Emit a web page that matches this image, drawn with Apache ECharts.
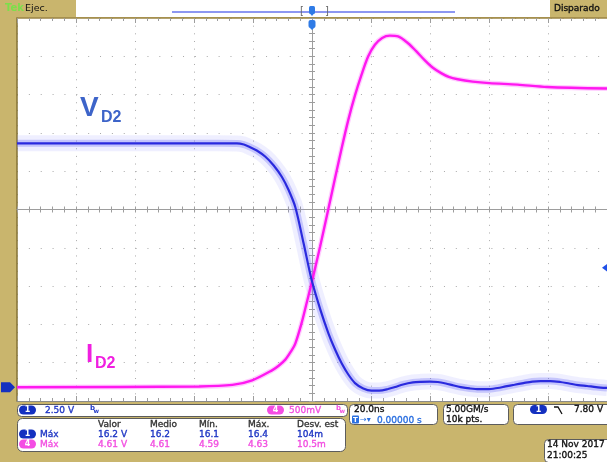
<!DOCTYPE html>
<html>
<head>
<meta charset="utf-8">
<script src="https://cdn.jsdelivr.net/npm/echarts@6/dist/echarts.min.js"></script>
<style>
  html, body { margin: 0; padding: 0; background: #c9b56d; }
  #scope { width: 607px; height: 462px; }
</style>
</head>
<body>
<div id="scope"></div>
<script>
// ---- Acquisition: 20 ns/div, 10 divisions, trigger at t = 0 ----
const timeRangeNs = [-100, 100];

// Channel 1: V_D2 (volts, 2.50 V/div)
const vd2Time = [-100, -38.3, -25.46, -23.10, -21.42, -18.72, -15.78, -12.98, -10.19, -7.93, -5.67,
  -2.87, -0.07, 2.77, 5.56, 7.82, 10.05, 12.31, 14.57, 17.37, 20.17, 22.77, 25.80, 28.16, 30.86,
  34.23, 36.93, 39.97, 42.66, 45.36, 48.06, 50.42, 53.46, 56.49, 59.53, 62.90, 65.60, 68.63,
  71.67, 74.70, 77.40, 80.78, 84.15, 87.18, 90.22, 93.25, 96.29, 100];
const vd2Volts = [15.92, 15.92, 15.91, 15.84, 15.71, 15.45, 15.04, 14.47, 13.72, 12.87, 11.76,
  9.41, 6.96, 5.10, 3.52, 2.46, 1.56, 0.83, 0.27, -0.08, -0.22, -0.22, -0.12, 0.01, 0.18,
  0.31, 0.35, 0.37, 0.34, 0.24, 0.11, 0.01, -0.08, -0.13, -0.13, -0.05, 0.05, 0.16,
  0.27, 0.37, 0.40, 0.40, 0.34, 0.24, 0.14, 0.08, 0.01, -0.05];

// Channel 4: I_D2 probe output (volts, 500 mV/div)
const id2Time = [-100, -38.3, -26.98, -20.30, -13.56, -11.30, -9.04, -7.25, -5.67, -3.44, -1.75,
  -0.07, 2.77, 5.56, 7.82, 10.05, 12.31, 14.57, 16.80, 19.06, 21.32, 23.78, 26.39, 29.17, 32.55,
  35.24, 38.18, 40.98, 43.78, 46.37, 49.41, 54.47, 60.10, 69.65, 79.76, 100];
const id2Volts = [0, 0.01, 0.03, 0.09, 0.22, 0.28, 0.36, 0.46, 0.57, 0.85, 1.11,
  1.37, 1.84, 2.33, 2.73, 3.12, 3.49, 3.81, 4.08, 4.32, 4.47, 4.56, 4.59, 4.58, 4.49,
  4.39, 4.27, 4.17, 4.10, 4.05, 4.02, 3.99, 3.97, 3.95, 3.92, 3.90];

// Vertical ranges: 10 divisions each, ground reference near the bottom
const ch1Range = [-0.9, 24.1];
const ch4Range = [-0.18, 4.82];
const triggerLevel = 7.80;

// Readout texts
const measureHeaders = ['Valor', 'Medio', 'Mín.', 'Máx.', 'Desv. est'];
const ch1Measures = ['16.2 V', '16.2', '16.1', '16.4', '104m'];
const ch4Measures = ['4.61 V', '4.61', '4.59', '4.63', '10.5m'];
const ch1ScaleText = '2.50 V';
const ch4ScaleText = '500mV';
const timebaseText = '20.0ns';
const delayText = '0.00000 s';
const sampleText = ['5.00GM/s', '10k pts.'];
const trigText = '7.80 V';
const dateText = ['14 Nov 2017', '21:00:25'];

const FONT = '"DejaVu Sans", Verdana, sans-serif';
const LABEL_FONT = '"Liberation Sans", Arial, sans-serif';
const KHAKI = '#c9b56d';
const BLUE_TXT = '#1f36c4';
const PINK_TXT = '#f24ee0';
const BADGE_BLUE = '#1430c0';
const BADGE_PINK = '#f44de3';
const GRID_DOT = '#a9a9a9';
const GRID_LINE = '#9d9d9d';

const pairs = (ts, vs) => ts.map((t, i) => [t, vs[i]]);

const chart = echarts.init(document.getElementById('scope'), null, { renderer: 'canvas' });

const hiddenLabel = { show: false };
const tickStyle = { color: GRID_LINE, width: 1 };
const SMOOTH = 0.3;

function trace(name, yIdx, data, z, lineStyle, silent) {
  return { name: name, type: 'line', xAxisIndex: 0, yAxisIndex: yIdx, data: data,
    smooth: SMOOTH, symbol: 'none', silent: !!silent, z: z, lineStyle: lineStyle };
}
const vd2Data = pairs(vd2Time, vd2Volts);
const id2Data = pairs(id2Time, id2Volts);

const option = {
  backgroundColor: KHAKI,
  animation: false,
  grid: { left: 17, top: 18, width: 593, height: 383, show: true, backgroundColor: '#ffffff', borderWidth: 0 },
  xAxis: [
    { // bottom edge + vertical dotted graticule
      type: 'value', min: timeRangeNs[0], max: timeRangeNs[1], interval: 20, position: 'bottom',
      axisLine: { onZero: false, lineStyle: { color: '#8a8a8a' } },
      axisTick: { inside: true, length: 5, lineStyle: tickStyle },
      minorTick: { show: true, splitNumber: 5, length: 3, lineStyle: tickStyle },
      axisLabel: hiddenLabel,
      splitLine: { show: true, lineStyle: { color: GRID_DOT, width: 1, type: [1, 6.66] } }
    },
    { // top edge
      type: 'value', min: timeRangeNs[0], max: timeRangeNs[1], interval: 20, position: 'top',
      axisLine: { onZero: false, lineStyle: { color: '#9a8443', width: 1.5 } },
      axisTick: { inside: true, length: 5, lineStyle: tickStyle },
      minorTick: { show: true, splitNumber: 5, length: 3, lineStyle: tickStyle },
      axisLabel: hiddenLabel, splitLine: { show: false }
    },
    { // centre horizontal line, ticks below
      type: 'value', min: timeRangeNs[0], max: timeRangeNs[1], interval: 4, position: 'bottom',
      axisLine: { onZero: true, onZeroAxisIndex: 2, lineStyle: { color: GRID_LINE } },
      axisTick: { inside: false, length: 3, lineStyle: tickStyle },
      axisLabel: hiddenLabel, splitLine: { show: false }
    },
    { // centre horizontal line, ticks above
      type: 'value', min: timeRangeNs[0], max: timeRangeNs[1], interval: 4, position: 'bottom',
      axisLine: { onZero: true, onZeroAxisIndex: 2, lineStyle: { color: GRID_LINE } },
      axisTick: { inside: true, length: 3, lineStyle: tickStyle },
      axisLabel: hiddenLabel, splitLine: { show: false }
    }
  ],
  yAxis: [
    { type: 'value', min: ch1Range[0], max: ch1Range[1], show: false, axisLine: { onZero: false } },
    { type: 'value', min: ch4Range[0], max: ch4Range[1], show: false, axisLine: { onZero: false } },
    { // divisions: left edge + horizontal dotted graticule
      type: 'value', min: -5, max: 5, interval: 1, position: 'left',
      axisLine: { onZero: false, lineStyle: { color: '#857336', width: 1.5 } },
      axisTick: { show: false },
      axisLabel: hiddenLabel,
      splitLine: { show: true, lineStyle: { color: GRID_DOT, width: 1, type: [1, 10.86] } }
    },
    { // centre vertical line, ticks left
      type: 'value', min: -5, max: 5, interval: 0.2, position: 'left',
      axisLine: { onZero: true, onZeroAxisIndex: 0, lineStyle: { color: GRID_LINE } },
      axisTick: { inside: false, length: 3, lineStyle: tickStyle },
      axisLabel: hiddenLabel, splitLine: { show: false }
    },
    { // centre vertical line, ticks right
      type: 'value', min: -5, max: 5, interval: 0.2, position: 'left',
      axisLine: { onZero: true, onZeroAxisIndex: 0, lineStyle: { color: GRID_LINE } },
      axisTick: { inside: true, length: 3, lineStyle: tickStyle },
      axisLabel: hiddenLabel, splitLine: { show: false }
    }
  ],
  series: [
    trace('V_D2 haze', 0, vd2Data, 2, { width: 16, color: 'rgba(150,150,255,0.15)' }, true),
    trace('V_D2 band', 0, vd2Data, 3, { width: 7, color: 'rgba(100,100,245,0.30)' }, true),
    trace('I_D2 band', 1, id2Data, 4, { width: 5, color: 'rgba(255,90,255,0.30)' }, true),
    trace('I_D2', 1, id2Data, 5, { width: 2.4, color: '#ff18f0' }),
    trace('V_D2', 0, vd2Data, 6, { width: 2.2, color: '#2a2ade' })
  ]
};
chart.setOption(option);

// ---- Decorations: status bar, readouts, markers ----
function txt(x, y, s, color, size, opt) {
  opt = opt || {};
  const style = { text: s, fill: color,
    font: (opt.weight || 'normal') + ' ' + size + 'px ' + (opt.family || FONT),
    align: opt.align || 'left', verticalAlign: 'middle' };
  if (opt.heavy) { style.stroke = color; style.lineWidth = 0.35; }
  return { type: 'text', x: x, y: y, z: 60, silent: true, style: style };
}
function box(x, y, w, h, r) {
  return { type: 'rect', z: 50, silent: true, shape: { x: x + 0.5, y: y + 0.5, width: w, height: h, r: r },
    style: { fill: '#ffffff', stroke: '#5c5c5c', lineWidth: 1 } };
}
function badge(x, y, label, color) {
  return [
    { type: 'rect', z: 55, silent: true, shape: { x: x, y: y, width: 17, height: 9, r: 4.5 }, style: { fill: color } },
    txt(x + 8.5, y + 4.8, label, '#ffffff', 8, { weight: 'bold', align: 'center' })
  ];
}
function bwIcon(x, y, color) {
  return [txt(x, y - 1.5, 'b', color, 7, { weight: 'bold' }), txt(x + 3.5, y + 1.5, 'w', color, 6, { weight: 'bold' })];
}

const els = [];
// status bar
els.push({ type: 'rect', z: 40, silent: true, shape: { x: 76, y: 0, width: 474, height: 17 }, style: { fill: '#ffffff' } });
els.push(txt(5, 8.5, 'Tek', '#7be04a', 10, { weight: 'bold' }));
els.push(txt(25, 8.5, 'Ejec.', '#111111', 9.5));
els.push(txt(554, 8.5, 'Disparado', '#111111', 9, { heavy: true }));
els.push({ type: 'line', z: 45, silent: true, shape: { x1: 172, y1: 12, x2: 455, y2: 12 }, style: { stroke: '#8d97f2', lineWidth: 2 } });
els.push(txt(300, 11, '[', '#6a6a6a', 10));
els.push(txt(325, 11, ']', '#6a6a6a', 10));

// on-screen labels
els.push(txt(80, 108, 'V', '#3d64c9', 28, { weight: 'bold', family: LABEL_FONT }));
els.push(txt(101, 117.5, 'D2', '#3d64c9', 16, { weight: 'bold', family: LABEL_FONT }));
els.push(txt(86, 354.5, 'I', '#f01fe0', 26, { weight: 'bold', family: LABEL_FONT }));
els.push(txt(95, 364, 'D2', '#f01fe0', 16, { weight: 'bold', family: LABEL_FONT }));

// channel scale row
els.push(box(17, 404, 330, 12, 4));
els.push(...badge(19, 405.5, '1', BADGE_BLUE));
els.push(txt(45, 410.5, ch1ScaleText, BLUE_TXT, 9, { heavy: true }));
els.push(...bwIcon(90, 410, BLUE_TXT));
els.push(...badge(267, 405.5, '4', BADGE_PINK));
els.push(txt(289, 410.5, ch4ScaleText, PINK_TXT, 9, { heavy: true }));
els.push(...bwIcon(336, 410, PINK_TXT));

// measurement table
const colX = [98, 150, 199, 248, 297];
els.push(box(17, 418, 328, 33, 5));
measureHeaders.forEach((h, i) => els.push(txt(colX[i], 424.5, h, '#333333', 9, { heavy: true })));
els.push(...badge(19, 429.5, '1', BADGE_BLUE));
els.push(txt(40, 434.5, 'Máx', BLUE_TXT, 9, { heavy: true }));
ch1Measures.forEach((v, i) => els.push(txt(colX[i], 434.5, v, BLUE_TXT, 9, { heavy: true })));
els.push(...badge(19, 439.5, '4', BADGE_PINK));
els.push(txt(40, 444.5, 'Máx', PINK_TXT, 9, { heavy: true }));
ch4Measures.forEach((v, i) => els.push(txt(colX[i], 444.5, v, PINK_TXT, 9, { heavy: true })));

// timebase
els.push(box(349, 404, 88, 20, 4));
els.push(txt(354, 409.5, timebaseText, '#111111', 9, { heavy: true }));
els.push({ type: 'rect', z: 55, silent: true, shape: { x: 352, y: 415.5, width: 7, height: 8, r: 1 }, style: { fill: '#2a6fe0' } });
els.push(txt(355.5, 419.8, 'T', '#ffffff', 7, { weight: 'bold', align: 'center' }));
els.push(txt(360, 419.5, '→▾', '#2a6fe0', 8));
els.push(txt(377, 420.5, delayText, '#2a6fe0', 9, { heavy: true }));

// sample rate
els.push(box(443, 404, 65, 20, 4));
els.push(txt(446, 409.5, sampleText[0], '#111111', 9, { heavy: true }));
els.push(txt(446, 420, sampleText[1], '#111111', 9, { heavy: true }));

// trigger
els.push(box(513, 404, 104, 20, 4));
els.push(...badge(530, 405, '1', BADGE_BLUE));
els.push({ type: 'polyline', z: 55, silent: true, shape: { points: [[554, 407], [558, 407], [562, 414]] }, style: { stroke: '#111111', lineWidth: 1.3, fill: null } });
els.push(txt(574, 410, trigText, '#111111', 9, { heavy: true }));

// date
els.push(box(544, 439, 72, 23, 4));
els.push(txt(547, 444.5, dateText[0], '#111111', 9, { heavy: true }));
els.push(txt(547, 456, dateText[1], '#111111', 9, { heavy: true }));

// markers placed from the axes
const gndY = chart.convertToPixel({ yAxisIndex: 0 }, 0);
const trigY = chart.convertToPixel({ yAxisIndex: 0 }, triggerLevel);
const trigX = chart.convertToPixel({ xAxisIndex: 0 }, 0);

els.push({ type: 'polygon', z: 70, silent: true,
  shape: { points: [[1, gndY - 5], [10, gndY - 5], [15, gndY], [10, gndY + 5], [1, gndY + 5]] },
  style: { fill: BADGE_BLUE } });
els.push(txt(7, gndY + 0.5, '1', '#ffffff', 8, { weight: 'bold', align: 'center' }));

els.push({ type: 'polygon', z: 70, silent: true,
  shape: { points: [[602, trigY], [608, trigY - 4.5], [608, trigY + 4.5]] }, style: { fill: '#2050e8' } });

// trigger-position markers
els.push({ type: 'rect', z: 70, silent: true, shape: { x: trigX - 3.5, y: 20, width: 7, height: 8, r: 2 }, style: { fill: '#2f7be6' } });
els.push({ type: 'polygon', z: 70, silent: true, shape: { points: [[trigX - 2.5, 27.5], [trigX + 2.5, 27.5], [trigX, 30]] }, style: { fill: '#2f7be6' } });
els.push(txt(trigX, 24.5, 'T', '#ffffff', 7, { weight: 'bold', align: 'center' }));
els.push({ type: 'rect', z: 70, silent: true, shape: { x: trigX - 3, y: 6, width: 6, height: 8, r: 1.5 }, style: { fill: '#2f7be6' } });
els.push({ type: 'polygon', z: 70, silent: true, shape: { points: [[trigX - 2, 13.5], [trigX + 2, 13.5], [trigX, 16]] }, style: { fill: '#2f7be6' } });
els.push(txt(trigX, 10, 'T', '#ffffff', 6, { weight: 'bold', align: 'center' }));

chart.setOption({ graphic: { elements: els } });
</script>
</body>
</html>
